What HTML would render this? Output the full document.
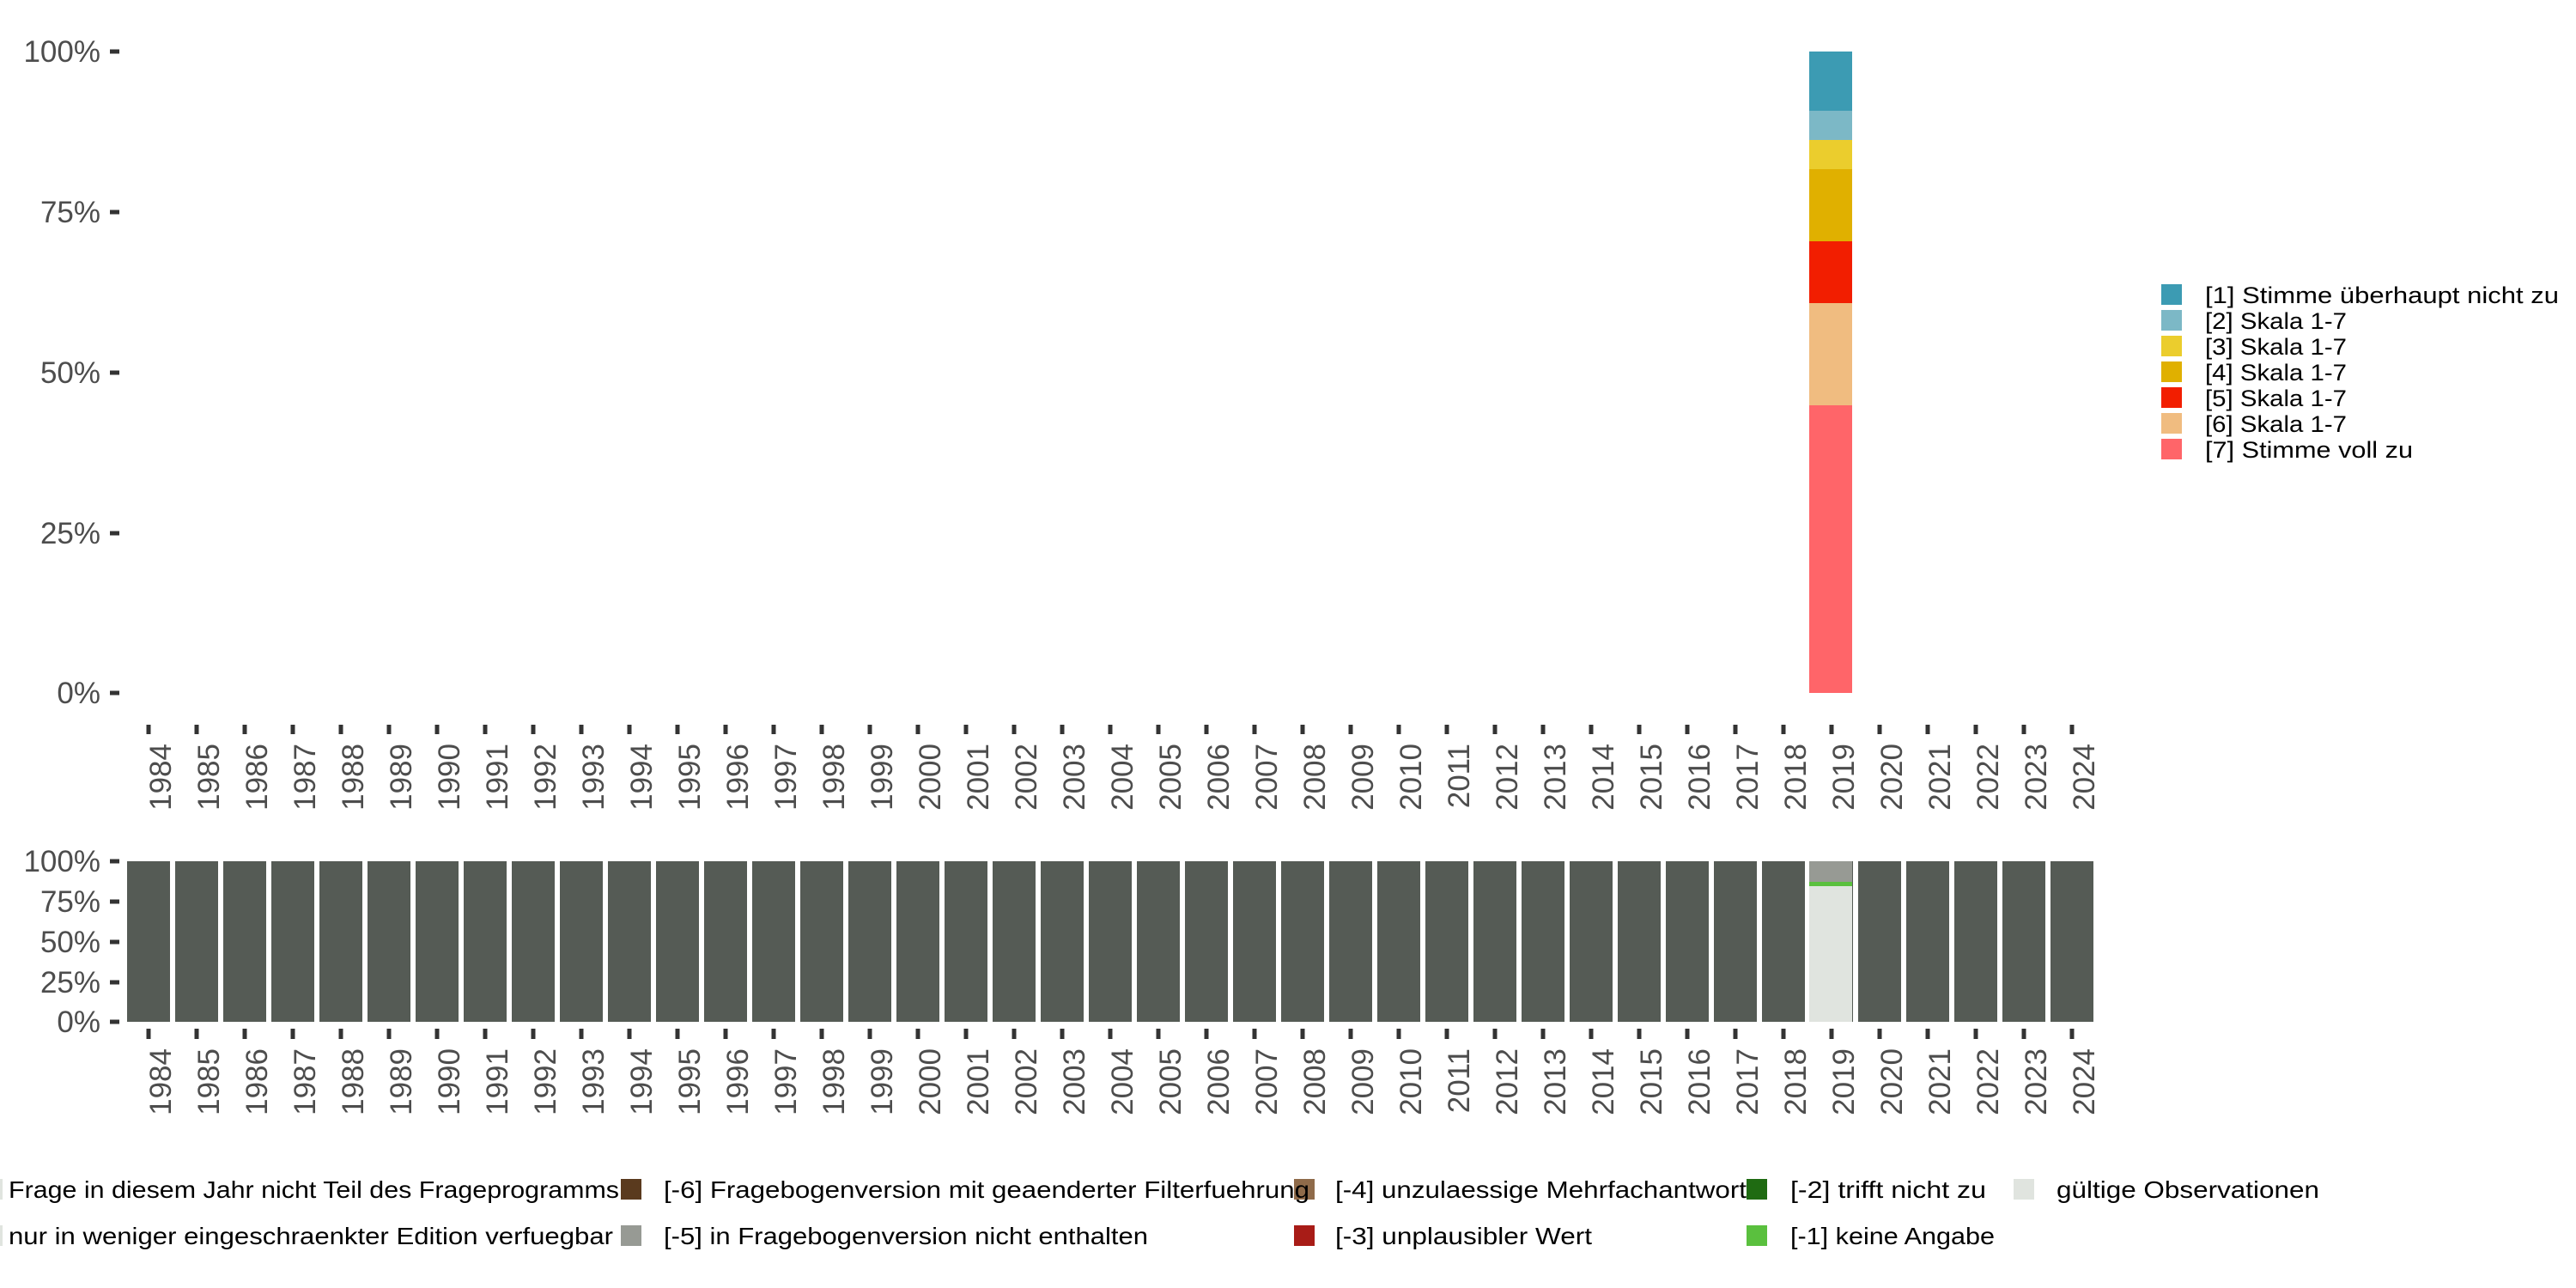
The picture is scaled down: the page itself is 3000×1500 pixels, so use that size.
<!DOCTYPE html>
<html><head><meta charset="utf-8"><style>
html,body{margin:0;padding:0;background:#fff;}
svg{display:block;}
</style></head><body>
<svg width="3000" height="1500" viewBox="0 0 3000 1500" xmlns="http://www.w3.org/2000/svg" font-family="'Liberation Sans', sans-serif">
<!-- TOP PANEL y ticks -->
<g fill="#4d4d4d" font-size="35" text-anchor="end">
<text x="117" y="72">100%</text>
<text x="117" y="259">75%</text>
<text x="117" y="446">50%</text>
<text x="117" y="633">25%</text>
<text x="117" y="819">0%</text>
</g>
<g stroke="#333" stroke-width="5">
<line x1="128" x2="139" y1="60" y2="60"/>
<line x1="128" x2="139" y1="247" y2="247"/>
<line x1="128" x2="139" y1="434" y2="434"/>
<line x1="128" x2="139" y1="621" y2="621"/>
<line x1="128" x2="139" y1="807" y2="807"/>
</g>
<!-- top bar 2019 -->
<g>
<rect x="2107" y="60" width="50" height="70" fill="#3c9bb3"/>
<rect x="2107" y="129" width="50" height="35" fill="#7cb8c6"/>
<rect x="2107" y="163" width="50" height="35" fill="#ebcd2d"/>
<rect x="2107" y="197" width="50" height="85" fill="#e0b000"/>
<rect x="2107" y="281" width="50" height="73" fill="#f21e00"/>
<rect x="2107" y="353" width="50" height="120" fill="#f0bc80"/>
<rect x="2107" y="472" width="50" height="335" fill="#ff6569"/>
</g>
<!-- top legend -->
<g>
<rect x="2517" y="331" width="24" height="24" fill="#3c9bb3"/>
<rect x="2517" y="361" width="24" height="24" fill="#7cb8c6"/>
<rect x="2517" y="391" width="24" height="24" fill="#ebcd2d"/>
<rect x="2517" y="421" width="24" height="24" fill="#e0b000"/>
<rect x="2517" y="451" width="24" height="24" fill="#f21e00"/>
<rect x="2517" y="481" width="24" height="24" fill="#f0bc80"/>
<rect x="2517" y="511" width="24" height="24" fill="#ff6569"/>
</g>
<g fill="#000" font-size="27">
<text x="2568" y="353" textLength="412" lengthAdjust="spacingAndGlyphs">[1] Stimme überhaupt nicht zu</text>
<text x="2568" y="383" textLength="165" lengthAdjust="spacingAndGlyphs">[2] Skala 1-7</text>
<text x="2568" y="413" textLength="165" lengthAdjust="spacingAndGlyphs">[3] Skala 1-7</text>
<text x="2568" y="443" textLength="165" lengthAdjust="spacingAndGlyphs">[4] Skala 1-7</text>
<text x="2568" y="473" textLength="165" lengthAdjust="spacingAndGlyphs">[5] Skala 1-7</text>
<text x="2568" y="503" textLength="165" lengthAdjust="spacingAndGlyphs">[6] Skala 1-7</text>
<text x="2568" y="533" textLength="242" lengthAdjust="spacingAndGlyphs">[7] Stimme voll zu</text>
</g>

<!-- BOTTOM PANEL y ticks -->
<g fill="#4d4d4d" font-size="35" text-anchor="end">
<text x="117" y="1015">100%</text>
<text x="117" y="1062">75%</text>
<text x="117" y="1109">50%</text>
<text x="117" y="1156">25%</text>
<text x="117" y="1202">0%</text>
</g>
<g stroke="#333" stroke-width="5">
<line x1="128" x2="139" y1="1003" y2="1003"/>
<line x1="128" x2="139" y1="1050" y2="1050"/>
<line x1="128" x2="139" y1="1097" y2="1097"/>
<line x1="128" x2="139" y1="1144" y2="1144"/>
<line x1="128" x2="139" y1="1190" y2="1190"/>
</g>
<g id="bars" fill="#555b55"></g>
<g id="ticks" stroke="#333" stroke-width="5"></g>
<g id="years" fill="#4d4d4d" font-size="35"></g>
<!-- 2019 bottom overlay -->
<rect x="2107" y="1003" width="50" height="24" fill="#979a94"/>
<rect x="2107" y="1027" width="50" height="5" fill="#5ac03e"/>
<rect x="2107" y="1032" width="50" height="158" fill="#e0e4df"/>

<!-- bottom legend -->
<g>
<rect x="0" y="1373" width="3" height="24" fill="#e0e4df"/>
<rect x="0" y="1427" width="3" height="24" fill="#e0e4df"/>
<rect x="723" y="1373" width="24" height="24" fill="#5a3a1e"/>
<rect x="723" y="1427" width="24" height="24" fill="#979a94"/>
<rect x="1507" y="1373" width="24" height="24" fill="#8f6b4a"/>
<rect x="1507" y="1427" width="24" height="24" fill="#a81c17"/>
<rect x="2034" y="1373" width="24" height="24" fill="#1f6b12"/>
<rect x="2034" y="1427" width="24" height="24" fill="#5ac03e"/>
<rect x="2345" y="1373" width="24" height="24" fill="#e0e4df"/>
</g>
<g fill="#000" font-size="28">
<text x="10" y="1395" textLength="711" lengthAdjust="spacingAndGlyphs">Frage in diesem Jahr nicht Teil des Frageprogramms</text>
<text x="10" y="1449" textLength="704" lengthAdjust="spacingAndGlyphs">nur in weniger eingeschraenkter Edition verfuegbar</text>
<text x="773" y="1395" textLength="752" lengthAdjust="spacingAndGlyphs">[-6] Fragebogenversion mit geaenderter Filterfuehrung</text>
<text x="773" y="1449" textLength="564" lengthAdjust="spacingAndGlyphs">[-5] in Fragebogenversion nicht enthalten</text>
<text x="1555" y="1395" textLength="479" lengthAdjust="spacingAndGlyphs">[-4] unzulaessige Mehrfachantwort</text>
<text x="1555" y="1449" textLength="299" lengthAdjust="spacingAndGlyphs">[-3] unplausibler Wert</text>
<text x="2085" y="1395" textLength="228" lengthAdjust="spacingAndGlyphs">[-2] trifft nicht zu</text>
<text x="2085" y="1449" textLength="238" lengthAdjust="spacingAndGlyphs">[-1] keine Angabe</text>
<text x="2395" y="1395" textLength="306" lengthAdjust="spacingAndGlyphs">gültige Observationen</text>
</g>
</svg>
<script>
(function(){
var ns="http://www.w3.org/2000/svg";
var bars=document.getElementById("bars"),ticks=document.getElementById("ticks"),years=document.getElementById("years");
for(var i=0;i<=40;i++){
 var x=173+56*i, y=1984+i;
 var r=document.createElementNS(ns,"rect");
 r.setAttribute("x",x-25);r.setAttribute("y",1003);r.setAttribute("width",50);r.setAttribute("height",187);
 bars.appendChild(r);
 [[844,855],[1198,1210]].forEach(function(p){
  var l=document.createElementNS(ns,"line");
  l.setAttribute("x1",x);l.setAttribute("x2",x);l.setAttribute("y1",p[0]);l.setAttribute("y2",p[1]);
  ticks.appendChild(l);
 });
 [866,1221].forEach(function(ty){
  var t=document.createElementNS(ns,"text");
  t.setAttribute("transform","translate("+(x+26)+","+ty+") rotate(-90)");
  t.setAttribute("text-anchor","end");
  t.textContent=y;
  years.appendChild(t);
 });
}
})();
</script>
</body></html>
